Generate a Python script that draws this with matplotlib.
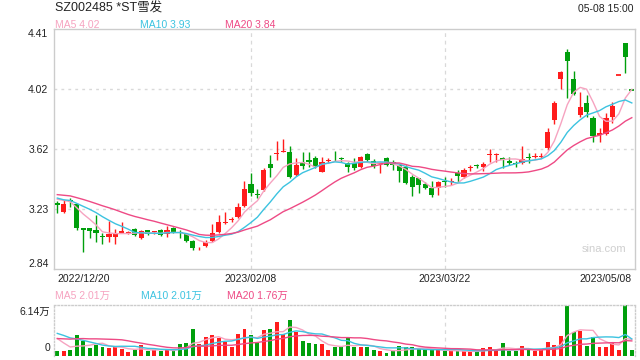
import matplotlib
matplotlib.use("Agg")
import matplotlib.pyplot as plt
import numpy as np
import pandas as pd

plt.rcParams['font.family'] = ['Liberation Sans', 'Noto Sans CJK SC', 'DejaVu Sans']

title = 'SZ002485 *ST雪发'
timestamp = '05-08 15:00'

dates = (
    ['2022/12/%02d' % d for d in [20, 21, 22, 23, 26, 27, 28, 29, 30]] +
    ['2023/01/%02d' % d for d in [3, 4, 5, 6, 9, 10, 11, 12, 13, 16, 17, 18, 19, 20, 30, 31]] +
    ['2023/02/%02d' % d for d in [1, 2, 3, 6, 7, 8, 9, 10, 13, 14, 15, 16, 17, 20, 21, 22, 23, 24, 27, 28]] +
    ['2023/03/%02d' % d for d in [1, 2, 3, 6, 7, 8, 9, 10, 13, 14, 15, 16, 17, 20, 21, 22, 23, 24, 27, 28, 29, 30, 31]] +
    ['2023/04/%02d' % d for d in [3, 4, 6, 7, 10, 11, 12, 13, 14, 17, 18, 19, 20, 21, 24, 25, 26, 27, 28]] +
    ['2023/05/%02d' % d for d in [4, 5, 8]]
)
tick_dates = ['2022/12/20', '2023/02/08', '2023/03/22', '2023/05/08']

open_ = [3.276, 3.217, 3.293, 3.267, 3.108, 3.108, 3.097, 3.058, 3.050, 3.053,
         3.080, 3.079, 3.104, 3.047, 3.095, 3.082, 3.097, 3.069, 3.108, 3.080,
         3.070, 3.025, 2.970, 2.992, 3.025, 3.082, 3.141, 3.160, 3.180, 3.254,
         3.398, 3.335, 3.359, 3.528, 3.595, 3.610, 3.605, 3.457, 3.544, 3.555,
         3.570, 3.478, 3.550, 3.583, 3.570, 3.533, 3.537, 3.511, 3.594, 3.548,
         3.530, 3.566, 3.544, 3.522, 3.511, 3.446, 3.435, 3.400, 3.370, 3.370,
         3.416, 3.412, 3.468, 3.446, 3.505, 3.520, 3.511, 3.590, 3.590, 3.570,
         3.548, 3.535, 3.533, 3.572, 3.575, 3.573, 3.631, 3.817, 4.083, 4.260,
         4.083, 3.850, 3.926, 3.832, 3.719, 3.725, 3.834, 4.110, 4.320, 4.010]
high = [3.289, 3.293, 3.304, 3.275, 3.110, 3.112, 3.195, 3.075, 3.158, 3.103,
        3.147, 3.090, 3.110, 3.095, 3.100, 3.090, 3.104, 3.125, 3.115, 3.097,
        3.075, 3.030, 2.985, 3.030, 3.134, 3.195, 3.217, 3.180, 3.276, 3.418,
        3.472, 3.363, 3.500, 3.588, 3.679, 3.690, 3.647, 3.570, 3.610, 3.610,
        3.580, 3.577, 3.570, 3.616, 3.575, 3.540, 3.565, 3.580, 3.600, 3.560,
        3.545, 3.575, 3.555, 3.530, 3.520, 3.460, 3.440, 3.410, 3.420, 3.420,
        3.446, 3.440, 3.490, 3.500, 3.520, 3.530, 3.540, 3.630, 3.600, 3.575,
        3.575, 3.550, 3.647, 3.600, 3.600, 3.600, 3.762, 3.943, 4.135, 4.279,
        4.137, 3.998, 3.980, 3.840, 3.762, 3.860, 3.936, 4.110, 4.320, 4.010]
low = [3.206, 3.210, 3.250, 3.097, 2.955, 3.043, 3.020, 3.005, 3.020, 3.004,
       3.078, 3.070, 3.060, 3.040, 3.065, 3.068, 3.058, 3.053, 3.080, 3.047,
       3.020, 2.966, 2.966, 2.988, 3.020, 3.075, 3.138, 3.147, 3.175, 3.250,
       3.320, 3.304, 3.355, 3.446, 3.555, 3.608, 3.435, 3.450, 3.494, 3.510,
       3.500, 3.475, 3.535, 3.548, 3.540, 3.478, 3.490, 3.505, 3.545, 3.505,
       3.468, 3.515, 3.490, 3.413, 3.395, 3.320, 3.341, 3.365, 3.315, 3.326,
       3.380, 3.390, 3.410, 3.435, 3.480, 3.500, 3.480, 3.540, 3.545, 3.500,
       3.520, 3.510, 3.530, 3.533, 3.565, 3.565, 3.620, 3.790, 4.017, 3.959,
       3.980, 3.834, 3.838, 3.675, 3.675, 3.720, 3.800, 4.110, 4.126, 4.010]
close = [3.259, 3.267, 3.278, 3.112, 3.095, 3.088, 3.080, 3.052, 3.073, 3.075,
         3.088, 3.082, 3.065, 3.090, 3.069, 3.085, 3.065, 3.097, 3.086, 3.075,
         3.027, 2.977, 2.975, 3.020, 3.075, 3.147, 3.151, 3.165, 3.245, 3.363,
         3.341, 3.328, 3.490, 3.500, 3.600, 3.615, 3.442, 3.522, 3.516, 3.540,
         3.516, 3.540, 3.557, 3.578, 3.560, 3.507, 3.500, 3.577, 3.555, 3.516,
         3.535, 3.522, 3.522, 3.485, 3.402, 3.380, 3.391, 3.370, 3.326, 3.413,
         3.410, 3.418, 3.450, 3.490, 3.511, 3.514, 3.530, 3.595, 3.595, 3.555,
         3.533, 3.530, 3.561, 3.568, 3.580, 3.578, 3.740, 3.930, 4.130, 4.203,
         3.987, 3.900, 3.871, 3.712, 3.730, 3.828, 3.905, 4.110, 4.230, 4.010]
volume = [5000, 5000, 6200, 24900, 17400, 9100, 13300, 10400, 9100, 10400,
          7500, 4150, 6200, 12450, 5000, 6200, 5000, 7500, 6200, 13700,
          14900, 32400, 13700, 22400, 24900, 21600, 17000, 10400, 26100, 32400,
          24900, 15400, 31100, 32400, 41100, 25700, 43600, 28200, 17400, 15800,
          13700, 13700, 6200, 10400, 10800, 21600, 10400, 10400, 10400, 6200,
          5000, 2900, 5000, 11200, 10000, 10000, 7500, 6600, 6600, 6600,
          5400, 5000, 5000, 5000, 5000, 5000, 8700, 10000, 6600, 14900,
          5000, 5000, 11200, 6600, 5000, 7500, 16200, 13300, 23700, 61000,
          29000, 29900, 11200, 22400, 10400, 10400, 14900, 6200, 61400, 6200]

# sessions before 2022/12/20 (estimated), used only to seed the moving averages
pre_close = [3.35, 3.36, 3.34, 3.33, 3.35, 3.36, 3.34, 3.33, 3.35, 3.40,
             3.38, 3.32, 3.30, 3.29, 3.28, 3.30, 3.32, 3.31, 3.30]
pre_volume = [12000, 13000, 15000, 14000, 16000, 13000, 15000, 14000, 16000, 16000,
              30000, 36000, 38000, 34000, 28500, 32000, 30700, 20000, 15800]

ma_periods = [5, 10, 20]
ma_colors = ['#f6a3c0', '#3cc3e0', '#ee4a85']
price_ma_text = ['4.02', '3.93', '3.84']
vol_ma_text = ['2.01万', '2.01万', '1.76万']
price_ticks = ['2.84', '3.23', '3.62', '4.02', '4.41']
vol_top_text = '6.14万'

RED = '#ff1c1c'
GREEN = '#009f0c'
GRID = '#d9d9d9'
TXT = '#222222'

n = len(close)
x = np.arange(n)
o = np.array(open_); h = np.array(high); l = np.array(low); c = np.array(close)
prev = np.concatenate([[pre_close[-1]], c[:-1]])
up = np.where(c > o, True, np.where(c < o, False, c >= prev))
colors = [RED if u else GREEN for u in up]

cs = pd.Series(pre_close + close)
vs = pd.Series(pre_volume + volume)
price_ma = [cs.rolling(p).mean().values[-n:] for p in ma_periods]
vol_ma = [vs.rolling(p).mean().values[-n:] for p in ma_periods]

fig = plt.figure(figsize=(6.4, 3.6), dpi=100)
ax = fig.add_axes([54 / 640, 1 - 269.3 / 360, 580.7 / 640, 240 / 360])
axv = fig.add_axes([54 / 640, 1 - 355.5 / 360, 580.7 / 640, 50.5 / 360])

ymin, ymax = float(price_ticks[0]), float(price_ticks[-1])
tick_vals = np.linspace(ymin, ymax, len(price_ticks))
xlim = (-0.51, 89.45)

# grid
for tv in tick_vals[1:-1]:
    ax.axhline(tv, color=GRID, lw=1.0, ls=(0, (2, 3)), zorder=0)
grid_idx = [dates.index(d) for d in tick_dates[1:-1]]
for gi in grid_idx:
    ax.axvline(gi, color=GRID, lw=0.9, ls=(0, (3, 3)), zorder=0)
    axv.axvline(gi, color=GRID, lw=0.9, ls=(0, (3, 3)), zorder=0)

# candles
bw = 0.8
for i in range(n):
    col = colors[i]
    if h[i] - l[i] < 1e-9:
        ax.hlines(c[i], i - bw / 2, i + bw / 2, color=col, lw=1.3, zorder=3)
        continue
    ax.vlines(i, l[i], h[i], color=col, lw=1.0, zorder=2)
    bot = min(o[i], c[i])
    ht = max(abs(c[i] - o[i]), 0.006)
    ax.bar(i, ht, bottom=bot, width=bw, color=col, lw=0, zorder=3)

for ma, colr in zip(price_ma, ma_colors):
    ax.plot(x, ma, color=colr, lw=1.0, zorder=4)

ax.set_xlim(*xlim)
ax.set_ylim(ymin, ymax)
ax.set_yticks(tick_vals)
ax.set_yticklabels(price_ticks)
ytl = ax.get_yticklabels()
ytl[0].set_va('bottom')
ytl[-1].set_va('top')
ax.tick_params(axis='y', length=0, pad=4, labelsize=7.5, labelcolor=TXT)
tick_idx = [dates.index(d) for d in tick_dates]
ax.set_xticks(tick_idx)
ax.set_xticklabels(tick_dates)
xtl = ax.get_xticklabels()
xtl[0].set_ha('left')
xtl[-1].set_ha('right')
ax.tick_params(axis='x', length=0, pad=3.5, labelsize=7.5, labelcolor=TXT)
for s in ax.spines.values():
    s.set_color('#cccccc')
    s.set_linewidth(1.0)
ax.text(0.985, 0.085, 'sina.com', transform=ax.transAxes, ha='right', va='center',
        fontsize=8, color='#cfcfcf')

# volume
axv.bar(x, volume, width=0.6, color=colors, lw=0, zorder=2)
for ma, colr in zip(vol_ma, ma_colors):
    axv.plot(x, ma, color=colr, lw=1.0, zorder=3)
axv.set_xlim(*xlim)
axv.set_ylim(0, max(volume) * 1.005)
axv.set_xticks([])
axv.set_yticks([])
for k in ['top', 'left', 'right']:
    axv.spines[k].set_color('#cccccc')
    axv.spines[k].set_linestyle((0, (1, 1.5)))
    axv.spines[k].set_linewidth(1.0)
axv.spines['bottom'].set_visible(False)
axv.text(-0.006, 0.87, vol_top_text, transform=axv.transAxes, ha='right', va='center',
         fontsize=7.5, color=TXT)
axv.text(-0.006, 0.15, '0', transform=axv.transAxes, ha='right', va='center',
         fontsize=7.5, color=TXT)

# header texts
fig.text(55 / 640, 1 - 8 / 360, title, ha='left', va='center', fontsize=9, color=TXT)
fig.text(634 / 640, 1 - 8.5 / 360, timestamp, ha='right', va='center', fontsize=7.5, color=TXT)
label_x = [55, 140.5, 225]
for p, colr, txt, lx in zip(ma_periods, ma_colors, price_ma_text, label_x):
    fig.text(lx / 640, 1 - 24.5 / 360, 'MA%d %s' % (p, txt), ha='left', va='center',
             fontsize=7.5, color=colr)
vlabel_x = [55, 141, 227]
for p, colr, txt, lx in zip(ma_periods, ma_colors, vol_ma_text, vlabel_x):
    fig.text(lx / 640, 1 - 295.5 / 360, 'MA%d %s' % (p, txt), ha='left', va='center',
             fontsize=7.5, color=colr)

fig.savefig('out.png', dpi=100)
